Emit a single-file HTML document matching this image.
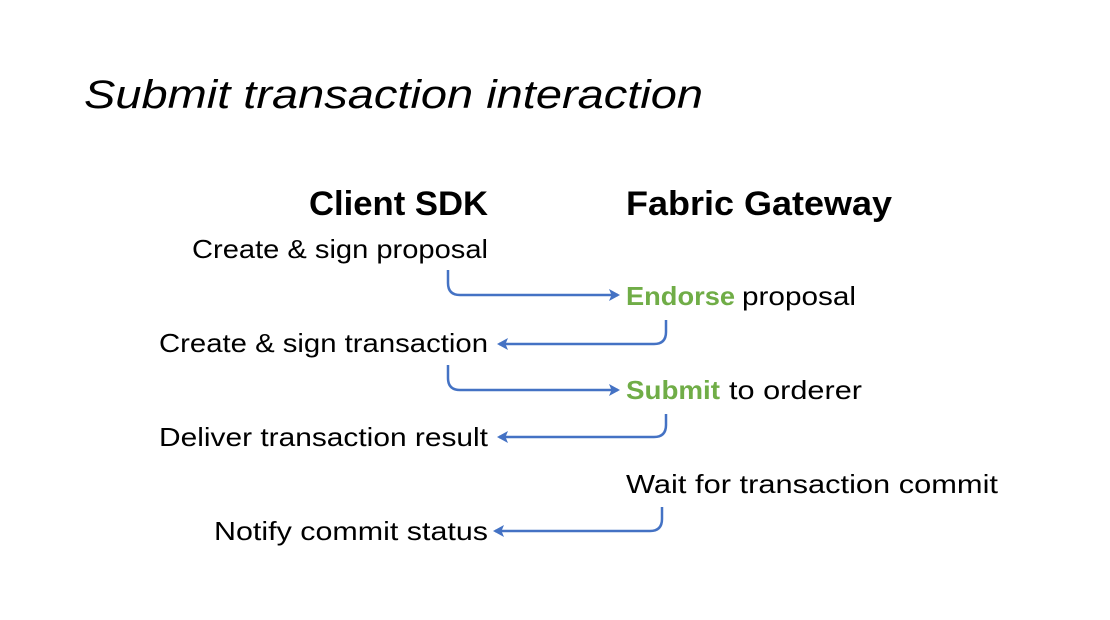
<!DOCTYPE html>
<html><head><meta charset="utf-8"><style>
html,body{margin:0;padding:0;background:#fff;}
svg{display:block;}
text{font-family:"Liberation Sans",sans-serif;fill:#000;}
</style></head><body>
<svg width="1110" height="620" viewBox="0 0 1110 620" xmlns="http://www.w3.org/2000/svg">
<defs>
<marker id="a" markerWidth="12" markerHeight="12" refX="9" refY="6" orient="auto" markerUnits="userSpaceOnUse">
<path d="M0,0 L11,6 L0,12 L2.5,6 Z" fill="#4472C4"/>
</marker>
</defs>
<text x="84" y="108" font-size="40" font-style="italic" textLength="619" lengthAdjust="spacingAndGlyphs" fill="#222">Submit transaction interaction</text>
<text x="309" y="215" font-size="34" font-weight="bold" textLength="179" lengthAdjust="spacingAndGlyphs">Client SDK</text>
<text x="626" y="215" font-size="34" font-weight="bold" textLength="266" lengthAdjust="spacingAndGlyphs">Fabric Gateway</text>

<text x="192" y="258" font-size="26" textLength="296" lengthAdjust="spacingAndGlyphs">Create &amp; sign proposal</text>
<text x="626" y="305" font-size="26" font-weight="bold" style="fill:#70AD47" textLength="109" lengthAdjust="spacingAndGlyphs">Endorse</text>
<text x="742" y="305" font-size="26" textLength="114" lengthAdjust="spacingAndGlyphs">proposal</text>
<text x="159" y="352" font-size="26" textLength="329" lengthAdjust="spacingAndGlyphs">Create &amp; sign transaction</text>
<text x="626" y="399" font-size="26" font-weight="bold" style="fill:#70AD47" textLength="94" lengthAdjust="spacingAndGlyphs">Submit</text>
<text x="729" y="399" font-size="26" textLength="133" lengthAdjust="spacingAndGlyphs">to orderer</text>
<text x="159" y="446" font-size="26" textLength="329" lengthAdjust="spacingAndGlyphs">Deliver transaction result</text>
<text x="626" y="493" font-size="26" textLength="372" lengthAdjust="spacingAndGlyphs">Wait for transaction commit</text>
<text x="214" y="540" font-size="26" textLength="274" lengthAdjust="spacingAndGlyphs">Notify commit status</text>

<g fill="none" stroke="#4472C4" stroke-width="2.5">
<path d="M448,270 V283 Q448,295 460,295 H618" marker-end="url(#a)"/>
<path d="M666,320 V332 Q666,344 654,344 H499" marker-end="url(#a)"/>
<path d="M448,365 V378 Q448,390 460,390 H618" marker-end="url(#a)"/>
<path d="M666,414 V425 Q666,437 654,437 H499" marker-end="url(#a)"/>
<path d="M662,507 V519 Q662,531 650,531 H495" marker-end="url(#a)"/>
</g>
</svg>
</body></html>
